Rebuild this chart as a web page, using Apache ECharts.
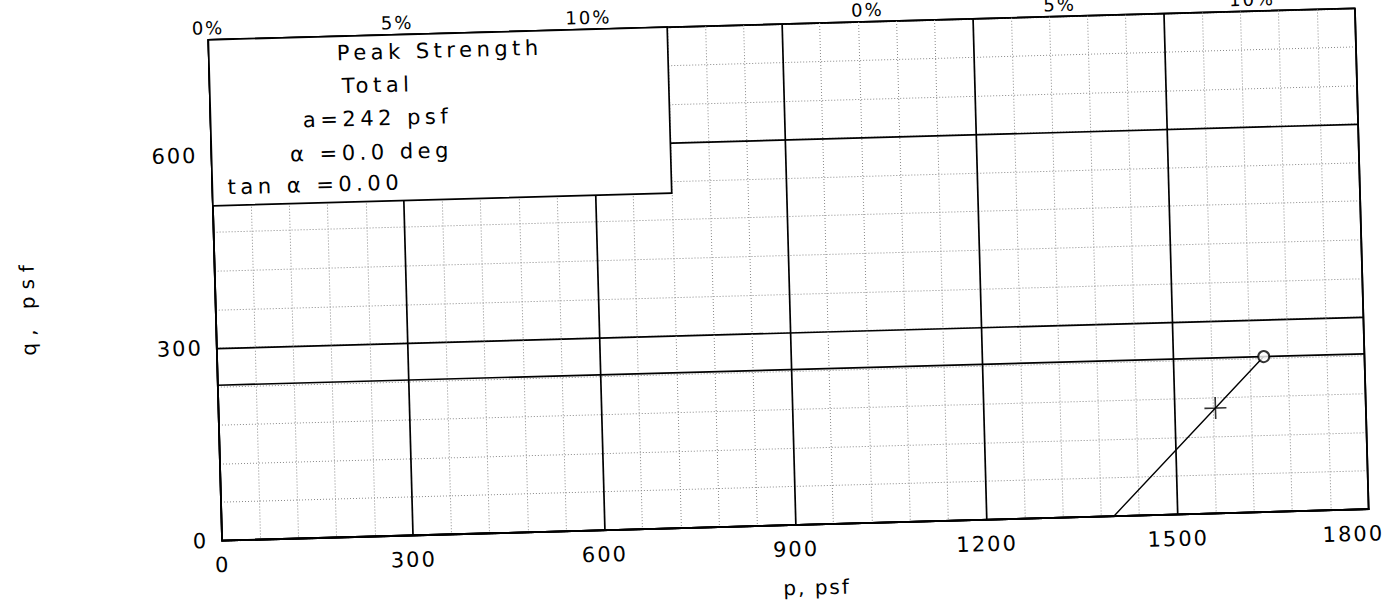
<!DOCTYPE html>
<html>
<head>
<meta charset="utf-8">
<script src="https://cdn.jsdelivr.net/npm/echarts@6/dist/echarts.min.js"></script>
<style>
  html, body { margin: 0; padding: 0; background: #fff; overflow: hidden; }
  #wrap {
    position: absolute; left: 0; top: 0; width: 1389px; height: 604px;
    transform: rotate(-1.57deg); transform-origin: 789px 274.5px;
  }
  #chart { width: 1389px; height: 604px; }
  #chart text { letter-spacing: 2px; }
</style>
</head>
<body>
<div id="wrap"><div id="chart"></div></div>
<script>
// Strength envelope fitted to the peak point (total stresses)
const envelopeA = 242;      // intercept a, psf
const alphaDeg = 0.0;       // slope angle, deg
const tanAlpha = 0.00;      // tan(alpha)

// Stress path p-q (psf)
const pathP = [1400, 1564, 1642];
const pathQ = [0, 164, 242];
const plusPoint = [1564, 164];
const peakPoint = [1642, 242];

// Axis ranges and tick labels
const pMax = 1800;
const qMax = 780;
const strainTickP = [0, 297, 597, 1035, 1337, 1639];
const strainTickLabels = ['0%', '5%', '10%', '0%', '5%', '10%'];

const boxLines = [
  'Peak Strength',
  'Total',
  'a=' + envelopeA + ' psf',
  'α =' + alphaDeg.toFixed(1) + ' deg',
  'tan α =' + tanAlpha.toFixed(2)
];
const boxLinePos = [[446, 41], [383, 74], [382, 107], [375, 141], [318, 172]];

const FONT = 'DejaVu Sans';
const chart = echarts.init(document.getElementById('chart'), null, { renderer: 'svg' });

const envelopeData = [[0, envelopeA], [pMax, envelopeA + pMax * tanAlpha]];
const pathData = pathP.map((p, i) => [p, pathQ[i]]);

const dotted = { color: '#8a8a8a', width: 1, type: [1, 2] };
const heavy = { color: '#000', width: 1.7, type: 'solid' };

const G = { left: 215, top: 24, width: 1147, height: 501 };

const boxChildren = [{
  type: 'rect', z: 100, shape: { x: G.left, y: G.top, width: 459, height: 166 },
  style: { fill: '#fff', stroke: '#000', lineWidth: 1.7 }
}].concat(boxLines.map((t, i) => ({
  type: 'text', z: 101, x: boxLinePos[i][0], y: boxLinePos[i][1],
  style: { text: t, font: '21px ' + FONT, fill: '#000', align: 'center', verticalAlign: 'middle' }
})));

chart.setOption({
  animation: false,
  backgroundColor: '#fff',
  grid: { left: G.left, top: G.top, width: G.width, height: G.height,
          show: true, borderColor: '#000', borderWidth: 1.8, backgroundColor: 'transparent' },
  xAxis: [{
    type: 'value', min: 0, max: pMax, interval: 300,
    name: 'p, psf', nameLocation: 'middle', nameGap: 53,
    nameTextStyle: { fontFamily: FONT, fontSize: 20, color: '#000', padding: [0, 0, 0, 40] },
    axisLine: { show: true, lineStyle: { color: '#000', width: 1.8 } },
    axisTick: { show: false },
    axisLabel: {
      fontFamily: FONT, fontSize: 21, color: '#000', margin: 14,
      formatter: v => v === pMax ? '{m|' + v + '}' : String(v),
      rich: { m: { fontFamily: FONT, fontSize: 21, color: '#000', padding: [0, 32, 0, 0] } }
    },
    splitLine: { show: true, lineStyle: heavy },
    minorTick: { show: false, splitNumber: 5 },
    minorSplitLine: { show: true, lineStyle: dotted }
  }, {
    type: 'value', min: 0, max: pMax, position: 'top',
    axisLine: { show: true, lineStyle: { color: '#000', width: 1.8 } },
    axisTick: { show: false },
    splitLine: { show: false },
    axisLabel: {
      fontFamily: FONT, fontSize: 18, color: '#000', margin: 3,
      customValues: strainTickP,
      formatter: v => strainTickLabels[strainTickP.indexOf(v)] || ''
    }
  }],
  yAxis: [{
    type: 'value', min: 0, max: qMax, interval: 60,
    name: 'q, psf', nameLocation: 'middle', nameGap: 178, nameRotate: 90,
    nameTextStyle: { fontFamily: FONT, fontSize: 20, color: '#000', padding: [0, 23, 0, 0] },
    axisLine: { show: true, lineStyle: { color: '#000', width: 1.8 } },
    axisTick: { show: false },
    axisLabel: {
      fontFamily: FONT, fontSize: 21, color: '#000', margin: 14,
      formatter: v => (v % 300 === 0 ? String(v) : '')
    },
    splitLine: { show: true, lineStyle: dotted }
  }, {
    type: 'value', min: 0, max: qMax, interval: 300, position: 'left',
    axisLine: { show: false }, axisTick: { show: false }, axisLabel: { show: false },
    splitLine: { show: true, lineStyle: heavy }
  }],
  series: [{
    name: 'Envelope', type: 'line', data: envelopeData, symbol: 'none',
    lineStyle: { color: '#000', width: 1.7 }, z: 3
  }, {
    name: 'Stress path', type: 'line', data: pathData, symbol: 'none',
    lineStyle: { color: '#000', width: 1.4 }, z: 3
  }, {
    name: 'Peak', type: 'scatter', data: [peakPoint], symbol: 'emptyCircle', symbolSize: 11,
    itemStyle: { color: '#000', borderColor: '#000', borderWidth: 1.4 }, z: 4
  }, {
    name: 'Marker', type: 'scatter', data: [plusPoint],
    symbol: 'path://M0,10L20,10M10,0L10,20', symbolSize: 22,
    itemStyle: { color: 'none', borderColor: '#000', borderWidth: 1.6 }, z: 4
  }],
  graphic: { elements: [{ type: 'group', z: 100, children: boxChildren }] }
});

// wider tracking for the annotation box text and the vertical axis title
function spaceText() {
  document.querySelectorAll('#chart text').forEach(t => {
    if (boxLines.indexOf(t.textContent) >= 0) t.style.letterSpacing = '4.5px';
    else if (t.textContent === 'q, psf') t.style.letterSpacing = '7px';
  });
}
chart.on('finished', spaceText);
spaceText();
</script>
</body>
</html>
